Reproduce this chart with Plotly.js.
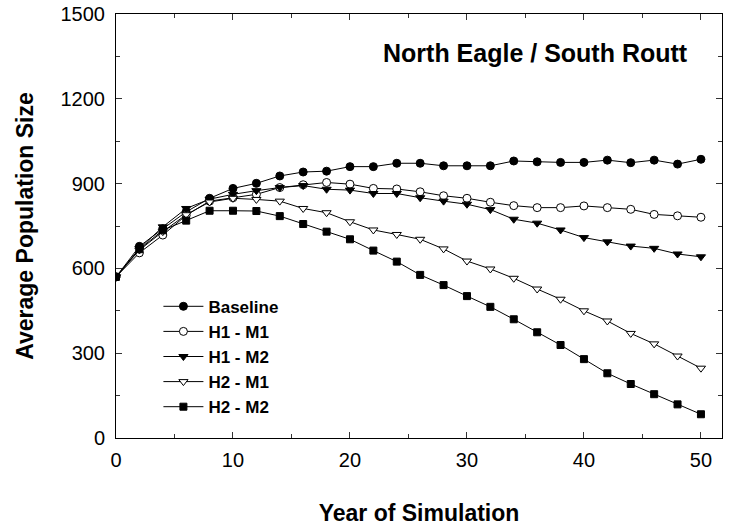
<!DOCTYPE html>
<html>
<head>
<meta charset="utf-8">
<script src="https://cdn.plot.ly/plotly-3.0.1.min.js"></script>
<style>
  html, body { margin: 0; padding: 0; background: #fff; }
  #chart { width: 729px; height: 531px; }
</style>
</head>
<body>
<div id="chart"></div>
<script>
// Simulation years (every second year)
const years = [0, 2, 4, 6, 8, 10, 12, 14, 16, 18, 20, 22, 24, 26, 28, 30, 32, 34, 36, 38, 40, 42, 44, 46, 48, 50];

// Average population size per scenario
const baseline = [570, 678, 740, 800, 848, 883, 901, 927, 941, 944, 960, 960, 972, 972, 963, 963, 963, 980, 977, 975, 975, 983, 974, 983, 969, 986];
const h1m1 = [570, 655, 718, 788, 838, 850, 862, 886, 896, 904, 898, 883, 881, 871, 857, 848, 834, 822, 815, 815, 821, 815, 809, 791, 786, 781];
const h1m2 = [570, 670, 747, 812, 845, 862, 875, 886, 893, 880, 877, 865, 865, 850, 838, 827, 808, 774, 760, 736, 709, 694, 679, 671, 651, 641];
const h2m1 = [570, 665, 730, 790, 835, 848, 844, 838, 812, 797, 765, 736, 720, 703, 669, 626, 598, 565, 527, 491, 450, 414, 370, 333, 290, 247];
const h2m2 = [570, 668, 735, 769, 804, 804, 803, 785, 757, 730, 703, 663, 624, 577, 541, 502, 464, 420, 374, 329, 279, 229, 191, 155, 119, 84];

const seriesNames = ['Baseline', 'H1 - M1', 'H1 - M2', 'H2 - M1', 'H2 - M2'];
const seriesValues = [baseline, h1m1, h1m2, h2m1, h2m2];
const markerSymbols = ['circle', 'circle-open', 'triangle-down', 'triangle-down-open', 'square'];

const FONT = 'Liberation Sans, Arial, sans-serif';

const traces = seriesValues.map((vals, i) => {
  const open = markerSymbols[i].endsWith('-open');
  return {
    x: years,
    y: vals,
    name: seriesNames[i],
    type: 'scatter',
    mode: 'lines+markers',
    line: { color: '#000', width: 1 },
    marker: {
      symbol: open ? markerSymbols[i].replace('-open', '') : markerSymbols[i],
      size: markerSymbols[i].startsWith('square') ? 7 : 8,
      color: open ? '#fff' : '#000',
      line: { color: '#000', width: 1 }
    }
  };
});

const axisCommon = {
  showgrid: false,
  zeroline: false,
  showline: true,
  linecolor: '#000',
  linewidth: 1,
  mirror: 'ticks',
  ticks: 'inside',
  ticklen: 6,
  tickwidth: 1,
  tickcolor: '#333',
  tickfont: { family: FONT, size: 20, color: '#000' }
};

const layout = {
  width: 729,
  height: 531,
  paper_bgcolor: '#fff',
  plot_bgcolor: '#fff',
  margin: { l: 116, r: 7, t: 14, b: 93 },
  showlegend: true,
  legend: {
    x: 0.07, y: 0.352, xanchor: 'left', yanchor: 'top',
    bgcolor: 'rgba(0,0,0,0)',
    font: { family: FONT, size: 17, color: '#000', weight: 'bold' },
    tracegroupgap: 0,
    itemwidth: 40
  },
  xaxis: Object.assign({}, axisCommon, {
    range: [0, 51.8],
    tickmode: 'array',
    tickvals: [0, 10, 20, 30, 40, 50],
    ticklabelstandoff: 4,
    minor: { tickvals: [5, 15, 25, 35, 45], ticks: 'inside', ticklen: 4, tickcolor: '#333' },
    title: { text: 'Year of Simulation', standoff: 34,
      font: { family: FONT, size: 23, color: '#000', weight: 'bold' } }
  }),
  yaxis: Object.assign({}, axisCommon, {
    range: [0, 1500],
    tickmode: 'array',
    tickvals: [0, 300, 600, 900, 1200, 1500],
    ticklabelstandoff: 6,
    minor: { tickvals: [150, 450, 750, 1050, 1350], ticks: 'inside', ticklen: 4, tickcolor: '#333' },
    title: { text: 'Average Population Size', standoff: 20,
      font: { family: FONT, size: 23, color: '#000', weight: 'bold' } }
  }),
  annotations: [{
    text: 'North Eagle / South Routt',
    xref: 'paper', yref: 'paper',
    x: 0.947, y: 0.908, xanchor: 'right', yanchor: 'middle',
    showarrow: false,
    font: { family: FONT, size: 25, color: '#000', weight: 'bold' }
  }]
};

Plotly.newPlot('chart', traces, layout, { displayModeBar: false, staticPlot: true });
</script>
</body>
</html>
